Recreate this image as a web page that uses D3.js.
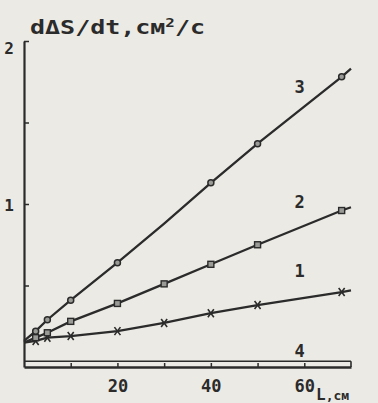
<!DOCTYPE html>
<html>
<head>
<meta charset="utf-8">
<script src="https://cdn.jsdelivr.net/npm/d3@7"></script>
<style>
  html, body { margin: 0; padding: 0; background: #ebeae4; }
  svg { display: block; }
  text { font-family: "DejaVu Sans Mono", "Liberation Mono", monospace; font-weight: bold; fill: #2b2b2b; }
</style>
</head>
<body>
<div id="chart"></div>
<script>
// L, cm
const lengths = [0, 2.5, 5, 10, 20, 30, 40, 50, 68, 70];
// dΔS/dt, cm^2/s per curve
const curve1 = [0.15, 0.16, 0.18, 0.19, 0.22, 0.27, 0.33, 0.38, 0.46, 0.47];
const curve2 = [0.15, 0.18, 0.21, 0.28, 0.39, 0.51, 0.63, 0.75, 0.96, 0.98];
const curve3 = [0.16, 0.22, 0.29, 0.41, 0.64, 0.88, 1.13, 1.37, 1.78, 1.83];
const curve4Len = [0, 70];
const curve4 = [0.035, 0.035];
// where markers are drawn on each curve
const marks1 = [2.5, 5, 10, 20, 30, 40, 50, 68];
const marks2 = [2.5, 5, 10, 20, 30, 40, 50, 68];
const marks3 = [2.5, 5, 10, 20, 40, 50, 68];

const xTicks = [10, 20, 30, 40, 50, 60];
const xLabels = [20, 40, 60];
const yTicks = [0.5, 1, 1.5, 2];
const yLabels = [1, 2];

const width = 378, height = 403;
const ink = '#2b2b2b';

const svg = d3.select('#chart').append('svg')
  .attr('width', width)
  .attr('height', height);

const x = d3.scaleLinear().domain([0, 70]).range([24, 351]);
const y = d3.scaleLinear().domain([0, 2]).range([367, 41]);

// axes
const xAxis = svg.append('g')
  .attr('transform', `translate(0,${y(0)})`)
  .call(d3.axisBottom(x).tickValues(xTicks).tickSizeInner(-4).tickSizeOuter(0)
    .tickFormat(d => xLabels.includes(d) ? d : ''));
xAxis.select('.domain').attr('stroke', ink).attr('stroke-width', 2.6);
xAxis.selectAll('.tick line').attr('stroke', ink).attr('stroke-width', 1.5);
xAxis.selectAll('.tick text')
  .attr('y', 25).attr('dy', null)
  .style('font-size', '17px')
  .attr('fill', ink);

const yAxis = svg.append('g')
  .attr('transform', `translate(${x(0)},0)`)
  .call(d3.axisLeft(y).tickValues(yTicks).tickSizeInner(-5).tickSizeOuter(0)
    .tickFormat(d => yLabels.includes(d) ? d : ''));
yAxis.select('.domain').attr('stroke', ink).attr('stroke-width', 2.2);
yAxis.selectAll('.tick line').attr('stroke', ink).attr('stroke-width', 1.5);
yAxis.selectAll('.tick text')
  .attr('x', -10).attr('dy', d => d === 2 ? '0.75em' : '0.4em')
  .style('font-size', '16px')
  .attr('fill', ink);

// curves
const line = d3.line().x(d => x(d[0])).y(d => y(d[1]));
const curves = [
  { id: 1, vals: curve1, marks: marks1, shape: 'cross' },
  { id: 2, vals: curve2, marks: marks2, shape: 'square' },
  { id: 3, vals: curve3, marks: marks3, shape: 'circle' }
];

curves.forEach(c => {
  const pts = lengths.map((l, i) => [l, c.vals[i]]);
  svg.append('path')
    .datum(pts)
    .attr('d', line)
    .attr('fill', 'none')
    .attr('stroke', ink)
    .attr('stroke-width', 2.3);

  const mpts = pts.filter(p => c.marks.includes(p[0]));
  const g = svg.append('g');
  if (c.shape === 'circle') {
    g.selectAll('circle').data(mpts).enter().append('circle')
      .attr('cx', d => x(d[0])).attr('cy', d => y(d[1])).attr('r', 3)
      .attr('fill', '#9a9a96').attr('stroke', ink).attr('stroke-width', 1.5);
  } else if (c.shape === 'square') {
    g.selectAll('rect').data(mpts).enter().append('rect')
      .attr('x', d => x(d[0]) - 3).attr('y', d => y(d[1]) - 3)
      .attr('width', 6).attr('height', 6)
      .attr('fill', '#9a9a96').attr('stroke', ink).attr('stroke-width', 1.4);
  } else {
    g.selectAll('path').data(mpts).enter().append('path')
      .attr('d', d => {
        const cx = x(d[0]), cy = y(d[1]);
        return `M${cx - 3},${cy - 4}L${cx + 3},${cy + 4}M${cx + 3},${cy - 4}L${cx - 3},${cy + 4}`;
      })
      .attr('stroke', ink).attr('stroke-width', 1.6);
  }
});

// curve 4: thin strip just over the axis
const pts4 = curve4Len.map((l, i) => [l, curve4[i]]);
svg.append('path')
  .datum(pts4)
  .attr('d', line)
  .attr('fill', 'none')
  .attr('stroke', ink)
  .attr('stroke-width', 1.4);
svg.append('line')
  .attr('x1', x(70)).attr('x2', x(70))
  .attr('y1', y(curve4[1])).attr('y2', y(0))
  .attr('stroke', ink).attr('stroke-width', 1.6);

// curve numbers
const tags = [
  { t: '3', l: 59, v: 1.72 },
  { t: '2', l: 59, v: 1.01 },
  { t: '1', l: 59, v: 0.59 },
  { t: '4', l: 59, v: 0.10 }
];
svg.selectAll('.tag').data(tags).enter().append('text')
  .attr('class', 'tag')
  .attr('x', d => x(d.l)).attr('y', d => y(d.v))
  .attr('text-anchor', 'middle')
  .attr('dy', '0.35em')
  .style('font-size', '17px')
  .text(d => d.t);

// axis titles
svg.append('text')
  .attr('x', 30).attr('y', 34)
  .attr('textLength', 175)
  .attr('lengthAdjust', 'spacingAndGlyphs')
  .style('font-size', '19px')
  .html('dΔS/dt,см<tspan dy="-7" style="font-size:12px">2</tspan><tspan dy="7">/с</tspan>');

svg.append('text')
  .attr('x', 316).attr('y', 400)
  .style('font-size', '16px')
  .html('L<tspan style="font-size:13px">,см</tspan>');
</script>
</body>
</html>
